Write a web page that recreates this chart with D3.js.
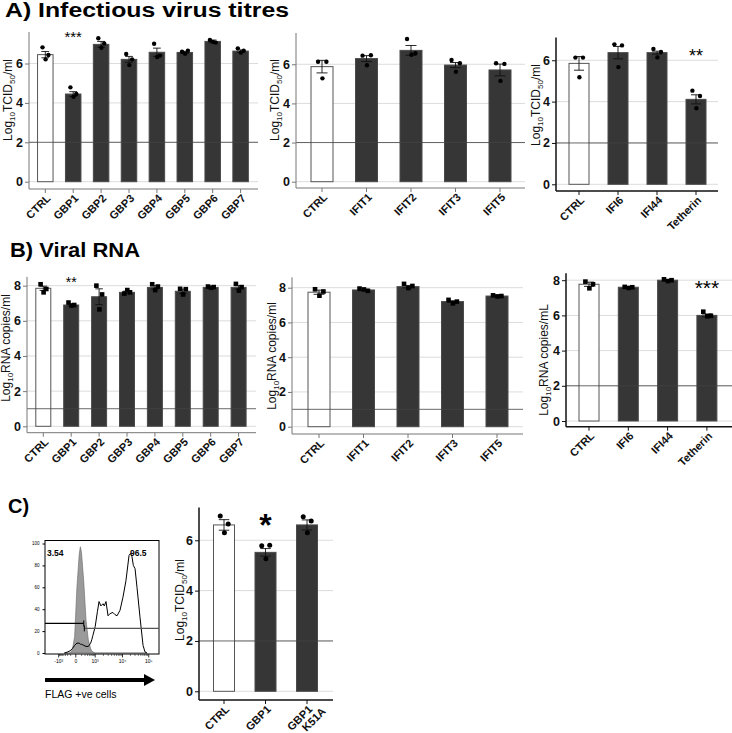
<!DOCTYPE html>
<html>
<head>
<meta charset="utf-8">
<script src="https://cdn.jsdelivr.net/npm/d3@7"></script>
<style>
  body { margin: 0; background: #fff; }
  text { font-family: "Liberation Sans", Arial, sans-serif; }
</style>
</head>
<body>
<script>
// ---- data: categories ----
const catsGBP = ["CTRL", "GBP1", "GBP2", "GBP3", "GBP4", "GBP5", "GBP6", "GBP7"];
const catsIFIT = ["CTRL", "IFIT1", "IFIT2", "IFIT3", "IFIT5"];
const catsIFI = ["CTRL", "IFI6", "IFI44", "Tetherin"];
const catsK51A = ["CTRL", "GBP1", "GBP1 K51A"];

// ---- A) infectious titres (log10 TCID50/ml) ----
const titreGBP = [6.45, 4.45, 6.97, 6.21, 6.57, 6.56, 7.12, 6.63];
const titreGBPErr = [0.16, 0.12, 0.15, 0.15, 0.21, 0.06, 0.07, 0.06];
const titreGBPPts = [[6.82, 6.43, 6.21], [4.79, 4.45, 4.31], [7.28, 7.02, 6.8], [6.48, 6.21, 5.92],
  [7.0, 6.4, 6.33], [6.6, 6.65, 6.5], [7.19, 7.06, 7.1], [6.77, 6.65, 6.55]];

const titreIFIT = [5.88, 6.29, 6.71, 5.96, 5.71];
const titreIFITErr = [0.32, 0.15, 0.25, 0.13, 0.3];
const titreIFITPts = [[6.13, 6.13, 5.28], [6.44, 6.46, 5.95], [7.29, 6.56, 6.49], [6.22, 6.05, 5.62], [6.05, 6.02, 5.15]];

const titreIFI = [5.85, 6.37, 6.37, 4.11];
const titreIFIErr = [0.33, 0.3, 0.07, 0.22];
const titreIFIPts = [[6.13, 6.13, 5.18], [6.77, 6.72, 5.67], [6.55, 6.4, 6.14], [4.53, 4.27, 3.68]];

// ---- B) viral RNA (log10 copies/ml) ----
const rnaGBP = [7.85, 6.9, 7.37, 7.62, 7.9, 7.68, 7.9, 7.9];
const rnaGBPErr = [0.12, 0.05, 0.45, 0.07, 0.1, 0.12, 0.03, 0.1];
const rnaGBPPts = [[8.08, 7.81, 7.62], [7.04, 6.9, 6.87], [8.0, 7.5, 6.65], [7.55, 7.62, 7.75],
  [8.08, 7.95, 7.75], [7.82, 7.8, 7.5], [7.95, 7.92, 7.88], [8.1, 7.92, 7.72]];

const rnaIFIT = [7.74, 7.87, 8.06, 7.2, 7.52];
const rnaIFITErr = [0.12, 0.04, 0.07, 0.05, 0.03];
const rnaIFITPts = [[7.91, 7.78, 7.54], [7.95, 7.82, 7.9], [8.22, 8.1, 7.98], [7.3, 7.2, 7.1], [7.56, 7.52, 7.5]];

const rnaIFI = [7.77, 7.6, 8.0, 6.0];
const rnaIFIErr = [0.12, 0.02, 0.04, 0.08];
const rnaIFIPts = [[7.92, 7.77, 7.54], [7.62, 7.6, 7.56], [8.05, 8.0, 7.95], [6.21, 5.98, 5.95]];

// ---- C) K51A titres ----
const titreK51A = [6.61, 5.52, 6.61];
const titreK51AErr = [0.21, 0.15, 0.2];
const titreK51APts = [[6.96, 6.65, 6.3], [5.78, 5.8, 5.27], [6.93, 6.77, 6.3]];

// ---- C) flow histogram (channel 0-100, % of max) ----
const flowCh = [17, 20, 22, 24, 26, 28, 30, 31, 32, 34, 36, 38, 40, 41, 42, 44, 46, 47.4, 49, 50.9, 52, 53.5, 55.3,
  57, 59.6, 61.4, 63.2, 65.8, 68.4, 71, 73.7, 75, 76.3, 77.5, 79, 80.7, 83.3, 86, 87.7, 89.5];
const isoCount = [0, 0, 0, 3, 15, 60, 90, 97, 92, 65, 30, 12, 4, 2, 1, 0, 0, 0, 0, 0, 0, 0, 0,
  0, 0, 0, 0, 0, 0, 0, 0, 0, 0, 0, 0, 0, 0, 0, 0, 0];
const flagCount = [0, 1, 2, 4, 7, 9, 9, 8, 8, 7, 6, 6, 9, 12, 16, 24, 38, 47, 43, 45, 43, 47, 34,
  36, 37, 35, 34, 39, 51, 66, 89, 91, 88, 80, 77, 60, 33, 7, 1, 0];
const flowTickLabels = ["-10³", "0", "10³", "10⁴", "10⁵"];
const flowTickCh = [12, 27, 44, 68, 91];
const gatePct = ["3.54", "96.5"];

const W = 732, H = 733;
const svg = d3.select("body").append("svg").attr("width", W).attr("height", H)
  .style("background", "#fff");

// panel titles
svg.append("text").attr("x", 5).attr("y", 17).attr("font-size", 19.5).attr("font-weight", "bold")
  .attr("textLength", 284).attr("lengthAdjust", "spacingAndGlyphs").text("A) Infectious virus titres");
svg.append("text").attr("x", 10).attr("y", 257).attr("font-size", 20).attr("font-weight", "bold")
  .attr("textLength", 130).attr("lengthAdjust", "spacingAndGlyphs").text("B) Viral RNA");
svg.append("text").attr("x", 8).attr("y", 513).attr("font-size", 20).attr("font-weight", "bold")
  .text("C)");

function yLabel(g, parts, x, y) {
  const t = g.append("text").attr("transform", "translate(" + x + "," + y + ") rotate(-90)")
    .attr("text-anchor", "middle").attr("font-size", 12).attr("fill", "#111");
  let lowered = false;
  parts.forEach(function (p) {
    const ts = t.append("tspan").text(p.s);
    if (p.sub) {
      ts.attr("font-size", 8).attr("dy", 2.5);
      lowered = true;
    } else if (lowered) {
      ts.attr("dy", -2.5);
      lowered = false;
    }
  });
}

function barPanel(p) {
  const g = svg.append("g");
  const n = p.cats.length;
  const pi = 1 - p.bw / p.step;
  const x = d3.scaleBand().domain(p.cats)
    .range([p.c0 - p.step / 2, p.c0 - p.step / 2 + n * p.step])
    .paddingInner(pi).paddingOuter(pi / 2);
  const y = d3.scaleLinear().domain([0, p.yMax]).range([p.y0, p.y0 - p.yMax * p.unit]);

  // grid
  g.selectAll(".grid").data(p.ticks).enter().append("line")
    .attr("x1", p.ax).attr("x2", p.axEnd)
    .attr("y1", d => y(d)).attr("y2", d => y(d))
    .attr("stroke", "#dcdcdc").attr("stroke-width", 1);

  // bars
  g.selectAll(".bar").data(p.means).enter().append("rect")
    .attr("x", (d, i) => x(p.cats[i]))
    .attr("y", d => y(d))
    .attr("width", x.bandwidth())
    .attr("height", d => y(0) - y(d))
    .attr("fill", (d, i) => i === 0 ? "#fff" : "#363636")
    .attr("stroke", (d, i) => i === 0 ? "#555" : "#4a4a4a")
    .attr("stroke-width", 1);

  // detection limit
  g.append("line").attr("x1", p.ax).attr("x2", p.axEnd)
    .attr("y1", y(p.lod)).attr("y2", y(p.lod))
    .attr("stroke", "#444").attr("stroke-opacity", 0.8).attr("stroke-width", 1);

  // error bars
  const cap = x.bandwidth() * 0.25;
  p.means.forEach(function (m, i) {
    const cx = x(p.cats[i]) + x.bandwidth() / 2;
    const e = p.errs[i];
    g.append("line").attr("x1", cx).attr("x2", cx).attr("y1", y(m + e)).attr("y2", y(m - e))
      .attr("stroke", "#111").attr("stroke-width", 0.9);
    [m + e, m - e].forEach(function (v) {
      g.append("line").attr("x1", cx - cap).attr("x2", cx + cap).attr("y1", y(v)).attr("y2", y(v))
        .attr("stroke", "#111").attr("stroke-width", 0.9);
    });
  });

  // points
  const off = [-0.18, 0.2, 0.02];
  p.pts.forEach(function (arr, i) {
    const cx = x(p.cats[i]) + x.bandwidth() / 2;
    arr.forEach(function (v, j) {
      const px = cx + off[j] * x.bandwidth();
      if (p.square) {
        g.append("rect").attr("x", px - 2.3).attr("y", y(v) - 2.3).attr("width", 4.6).attr("height", 4.6)
          .attr("fill", "#000");
      } else {
        g.append("circle").attr("cx", px).attr("cy", y(v)).attr("r", p.r || 2.2).attr("fill", "#000");
      }
    });
  });

  // y axis
  const yAxis = d3.axisLeft(y).tickValues(p.ticks).tickSize(4).tickPadding(2)
    .tickSizeOuter(0).tickFormat(d3.format("d"));
  const ya = g.append("g").attr("transform", "translate(" + p.ax + ",0)").call(yAxis);
  ya.select(".domain").remove();
  ya.selectAll("line").attr("stroke", p.axisColor);
  ya.selectAll("text").attr("font-size", 12.5).attr("font-weight", "bold").attr("fill", "#111")
    .attr("font-family", "Liberation Sans, Arial, sans-serif");
  g.append("line").attr("x1", p.ax).attr("x2", p.ax).attr("y1", y(p.yMax)).attr("y2", p.xAxisY)
    .attr("stroke", p.axisColor).attr("stroke-width", p.axisW || 1);

  // x axis
  g.append("line").attr("x1", p.ax).attr("x2", p.axEnd).attr("y1", p.xAxisY).attr("y2", p.xAxisY)
    .attr("stroke", p.axisColor).attr("stroke-width", p.axisW || 1);
  p.cats.forEach(function (c) {
    const cx = x(c) + x.bandwidth() / 2;
    g.append("line").attr("x1", cx).attr("x2", cx).attr("y1", p.xAxisY).attr("y2", p.xAxisY + 4)
      .attr("stroke", p.axisColor);
    const t = g.append("text").attr("transform", "translate(" + (cx + 6) + "," + (p.xAxisY + 10) + ") rotate(-45)")
      .attr("text-anchor", "end").attr("font-size", 11).attr("font-weight", "bold").attr("fill", "#111");
    const lines = c.split(" ");
    lines.forEach(function (s, k) {
      t.append("tspan").attr("x", k === 0 ? 0 : 8).attr("dy", k === 0 ? 0 : "1em").text(s);
    });
  });

  yLabel(g, p.label, p.labelX, p.labelY);

  if (p.star) {
    const cx = x(p.cats[p.star.i]) + x.bandwidth() / 2;
    g.append("text").attr("x", cx).attr("y", p.star.y).attr("text-anchor", "middle")
      .attr("font-size", p.star.size).attr("font-weight", p.star.bold ? "bold" : "normal")
      .text(p.star.s);
  }
}

const lblTitre = [{ s: "Log" }, { s: "10", sub: true }, { s: "TCID" }, { s: "50", sub: true }, { s: "/ml" }];
const lblRna = [{ s: "Log" }, { s: "10", sub: true }, { s: "RNA copies/ml" }];
const lblRnaL = [{ s: "Log" }, { s: "10", sub: true }, { s: "RNA copies/mL" }];

barPanel({ cats: catsGBP, means: titreGBP, errs: titreGBPErr, pts: titreGBPPts,
  c0: 45.3, step: 27.9, bw: 15.5, y0: 181.7, unit: 19.7, yMax: 7.6, ax: 29, axEnd: 258, xAxisY: 189,
  lod: 2, ticks: [0, 2, 4, 6], axisColor: "#777", label: lblTitre, labelX: 12, labelY: 100,
  star: { i: 1, s: "***", y: 42, size: 15 } });

barPanel({ cats: catsIFIT, means: titreIFIT, errs: titreIFITErr, pts: titreIFITPts,
  c0: 322, step: 44.5, bw: 22, y0: 181.7, unit: 19.57, yMax: 7.6, ax: 296, axEnd: 525, xAxisY: 188,
  lod: 2, ticks: [0, 2, 4, 6], axisColor: "#777", label: lblTitre, labelX: 279, labelY: 100 });

barPanel({ cats: catsIFI, means: titreIFI, errs: titreIFIErr, pts: titreIFIPts,
  c0: 579, step: 39, bw: 20, y0: 184.3, unit: 20.67, yMax: 7.1, ax: 556, axEnd: 718, xAxisY: 191,
  lod: 2, ticks: [0, 2, 4, 6], axisColor: "#111", axisW: 1.5, label: lblTitre, labelX: 540, labelY: 105,
  star: { i: 3, s: "**", y: 62, size: 18 } });

barPanel({ cats: catsGBP, means: rnaGBP, errs: rnaGBPErr, pts: rnaGBPPts, square: true,
  c0: 43.3, step: 27.9, bw: 15, y0: 426.3, unit: 17.58, yMax: 8.5, ax: 27, axEnd: 256, xAxisY: 432.7,
  lod: 1, ticks: [0, 2, 4, 6, 8], axisColor: "#777", label: lblRna, labelX: 10, labelY: 348,
  star: { i: 1, s: "**", y: 287, size: 14 } });

barPanel({ cats: catsIFIT, means: rnaIFIT, errs: rnaIFITErr, pts: rnaIFITPts, square: true,
  c0: 319, step: 44.5, bw: 22, y0: 426.7, unit: 17.375, yMax: 8.6, ax: 292, axEnd: 523, xAxisY: 434,
  lod: 1, ticks: [0, 2, 4, 6, 8], axisColor: "#777", label: lblRna, labelX: 276, labelY: 356 });

barPanel({ cats: catsIFI, means: rnaIFI, errs: rnaIFIErr, pts: rnaIFIPts, square: true,
  c0: 589, step: 39.3, bw: 20, y0: 421, unit: 17.6, yMax: 8.4, ax: 566, axEnd: 732, xAxisY: 426.7,
  lod: 2, ticks: [0, 2, 4, 6, 8], axisColor: "#111", axisW: 1.5, label: lblRnaL, labelX: 548, labelY: 360,
  star: { i: 3, s: "***", y: 295, size: 21 } });

barPanel({ cats: catsK51A, means: titreK51A, errs: titreK51AErr, pts: titreK51APts, r: 2.5,
  c0: 224, step: 41.5, bw: 21, y0: 691.3, unit: 25.17, yMax: 7.3, ax: 199, axEnd: 333, xAxisY: 700,
  lod: 2, ticks: [0, 2, 4, 6], axisColor: "#111", axisW: 1.5, label: lblTitre, labelX: 184, labelY: 600,
  star: { i: 1, s: "*", y: 536, size: 32, bold: true } });

// ---- flow cytometry histogram ----
const fx = d3.scaleLinear().domain([0, 100]).range([45, 159]);
const fy = d3.scaleLinear().domain([0, 100]).range([653, 543.5]);
const fg = svg.append("g");

const iso = flowCh.map((c, i) => [c, isoCount[i]]);
const flag = flowCh.map((c, i) => [c, flagCount[i]]);
fg.append("path").datum(iso)
  .attr("d", d3.area().x(d => fx(d[0])).y0(fy(0)).y1(d => fy(d[1])))
  .attr("fill", "#9a9a9a").attr("stroke", "#666").attr("stroke-width", 0.6);
fg.append("path").datum(flag)
  .attr("d", d3.line().x(d => fx(d[0])).y(d => fy(d[1])))
  .attr("fill", "none").attr("stroke", "#000").attr("stroke-width", 1);

fg.append("rect").attr("x", fx(0)).attr("y", 540.5).attr("width", fx(100) - fx(0)).attr("height", 654 - 540.5)
  .attr("fill", "none").attr("stroke", "#000").attr("stroke-width", 1);

// gates
fg.append("line").attr("x1", fx(0)).attr("x2", fx(34)).attr("y1", fy(27)).attr("y2", fy(27))
  .attr("stroke", "#000").attr("stroke-width", 1.2);
fg.append("line").attr("x1", fx(34)).attr("x2", fx(34)).attr("y1", fy(27) - 3).attr("y2", fy(27) + 3)
  .attr("stroke", "#000").attr("stroke-width", 1);
fg.append("line").attr("x1", fx(34)).attr("x2", fx(100)).attr("y1", fy(22.5)).attr("y2", fy(22.5))
  .attr("stroke", "#555").attr("stroke-width", 1.2);
fg.append("line").attr("x1", fx(34.5)).attr("x2", fx(34.5)).attr("y1", fy(22.5) - 3).attr("y2", fy(22.5) + 3)
  .attr("stroke", "#000").attr("stroke-width", 1);
fg.append("text").attr("x", 47).attr("y", 556).attr("font-size", 8.5).attr("font-weight", "bold").text(gatePct[0]);
fg.append("text").attr("x", 130).attr("y", 556).attr("font-size", 8.5).attr("font-weight", "bold").text(gatePct[1]);

// flow y axis
const fyAxis = d3.axisLeft(fy).tickValues([0, 20, 40, 60, 80, 100]).tickSize(2.5);
const fya = fg.append("g").attr("transform", "translate(" + fx(0) + ",0)").call(fyAxis);
fya.select(".domain").remove();
fya.selectAll("text").attr("font-size", 4.5).attr("font-family", "Liberation Sans, Arial, sans-serif");

// flow x axis ticks
flowTickCh.forEach(function (c, i) {
  fg.append("line").attr("x1", fx(c)).attr("x2", fx(c)).attr("y1", 654).attr("y2", 657.5)
    .attr("stroke", "#000").attr("stroke-width", 0.8);
  fg.append("text").attr("x", fx(c)).attr("y", 663).attr("text-anchor", "middle")
    .attr("font-size", 5).text(flowTickLabels[i]);
});
// minor log ticks between decades
for (let k = 2; k < flowTickCh.length - 1; k++) {
  const a = flowTickCh[k], b = flowTickCh[k + 1];
  for (let m = 2; m < 10; m++) {
    const c = a + (b - a) * Math.log10(m);
    fg.append("line").attr("x1", fx(c)).attr("x2", fx(c)).attr("y1", 654).attr("y2", 656)
      .attr("stroke", "#000").attr("stroke-width", 0.5);
  }
}
for (let m = 2; m < 10; m++) {
  const c = flowTickCh[1] + (flowTickCh[2] - flowTickCh[1]) * Math.log10(m);
  fg.append("line").attr("x1", fx(c)).attr("x2", fx(c)).attr("y1", 654).attr("y2", 656)
    .attr("stroke", "#000").attr("stroke-width", 0.5);
  const c2 = flowTickCh[1] - (flowTickCh[1] - flowTickCh[0]) * Math.log10(m);
  fg.append("line").attr("x1", fx(c2)).attr("x2", fx(c2)).attr("y1", 654).attr("y2", 656)
    .attr("stroke", "#000").attr("stroke-width", 0.5);
}

// arrow + caption
fg.append("line").attr("x1", 45).attr("x2", 146).attr("y1", 680).attr("y2", 680)
  .attr("stroke", "#000").attr("stroke-width", 4);
fg.append("path").attr("d", "M144,674 L155,680 L144,686 Z").attr("fill", "#000");
fg.append("text").attr("x", 45).attr("y", 698).attr("font-size", 10.5).text("FLAG +ve cells");
</script>
</body>
</html>
